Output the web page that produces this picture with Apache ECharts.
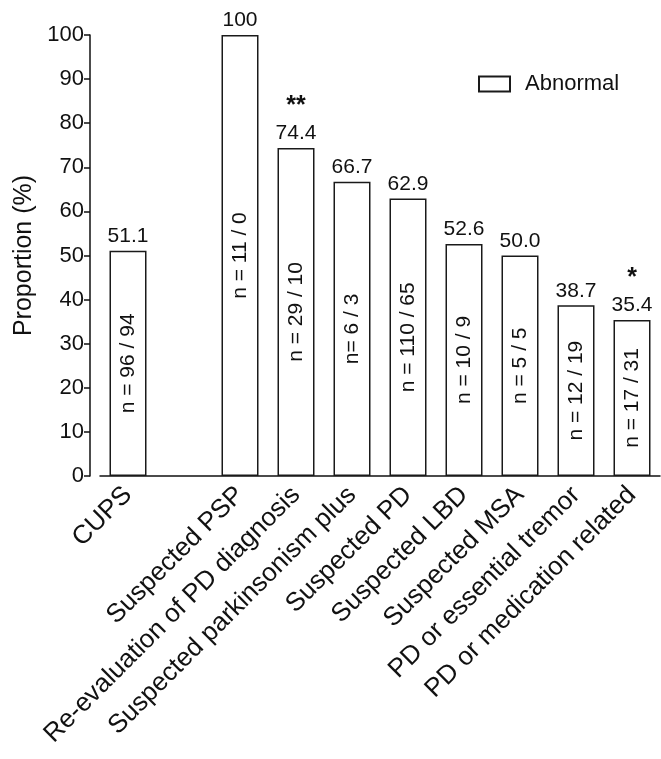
<!DOCTYPE html>
<html>
<head>
<meta charset="utf-8">
<script src="https://cdn.jsdelivr.net/npm/echarts@6/dist/echarts.min.js"></script>
<style>
  html, body { margin: 0; padding: 0; background: #fff; }
  #main { width: 661px; height: 759px; }
</style>
</head>
<body>
<div id="main"></div>
<script>
// categories (empty slot keeps the gap after CUPS)
var categories = ['CUPS', '', 'Suspected PSP', 'Re-evaluation of PD diagnosis',
  'Suspected parkinsonism plus', 'Suspected PD', 'Suspected LBD', 'Suspected MSA',
  'PD or essential tremor', 'PD or medication related'];
var abnormal = [51.1, null, 100, 74.4, 66.7, 62.9, 52.6, 50.0, 38.7, 35.4];
var counts = ['n = 96 / 94', '', 'n = 11 / 0', 'n = 29 / 10', 'n= 6 / 3', 'n = 110 / 65',
  'n = 10 / 9', 'n = 5 / 5', 'n = 12 / 19', 'n = 17 / 31'];
var stars = ['', '', '', '**', '', '', '', '', '', '*'];
var yTicks = [0, 10, 20, 30, 40, 50, 60, 70, 80, 90, 100];

var font = 'Liberation Sans, Arial, sans-serif';
var ink = '#111';

var myChart = echarts.init(document.getElementById('main'));

var option = {
  backgroundColor: '#fff',
  animation: false,
  textStyle: { fontFamily: font, color: ink },
  grid: { left: 100, right: 1, top: 35, bottom: 283 },
  legend: {
    data: ['Abnormal'],
    icon: 'rect',
    left: 473,
    top: 68,
    itemWidth: 31,
    itemHeight: 15,
    textStyle: { fontFamily: font, fontSize: 22, color: ink, padding: [0, 0, 0, 10] }
  },
  xAxis: {
    type: 'category',
    data: categories,
    axisLine: { lineStyle: { color: ink, width: 1.5 } },
    axisTick: { alignWithLabel: true, length: 7, lineStyle: { color: ink, width: 1.5 } },
    axisLabel: {
      interval: 0,
      rotate: 45,
      margin: 15,
      fontSize: 26,
      color: ink,
      fontFamily: font
    }
  },
  yAxis: {
    type: 'value',
    min: yTicks[0],
    max: yTicks[yTicks.length - 1],
    interval: 10,
    offset: 10,
    name: 'Proportion (%)',
    nameLocation: 'middle',
    nameGap: 52,
    nameTextStyle: { fontSize: 25, color: ink, fontFamily: font },
    axisLine: { show: true, lineStyle: { color: ink, width: 1.5 } },
    axisTick: { show: true, length: 6, lineStyle: { color: ink, width: 1.5 } },
    axisLabel: { fontSize: 22, color: ink, fontFamily: font, margin: 6 },
    splitLine: { show: false }
  },
  series: [
    {
      name: 'Abnormal',
      type: 'bar',
      data: abnormal,
      barWidth: 37,
      itemStyle: { color: '#fff', borderColor: '#1a1a1a', borderWidth: 1.5 },
      label: {
        show: true,
        position: 'top',
        distance: 4,
        fontSize: 21,
        color: ink,
        fontFamily: font,
        formatter: function (p) {
          var v = p.value === 100 ? '100' : p.value.toFixed(1);
          var s = stars[p.dataIndex];
          return s ? '{s|' + s + '}\n' + v : v;
        },
        rich: {
          s: { fontSize: 25, fontWeight: 'bold', lineHeight: 34, color: ink, fontFamily: font }
        }
      }
    },
    {
      name: 'counts',
      type: 'bar',
      data: abnormal,
      barWidth: 37,
      barGap: '-100%',
      silent: true,
      itemStyle: { color: 'rgba(0,0,0,0)' },
      label: {
        show: true,
        position: 'inside',
        rotate: 90,
        fontSize: 21,
        color: ink,
        fontFamily: font,
        formatter: function (p) { return counts[p.dataIndex]; }
      }
    }
  ]
};

myChart.setOption(option);
</script>
</body>
</html>
